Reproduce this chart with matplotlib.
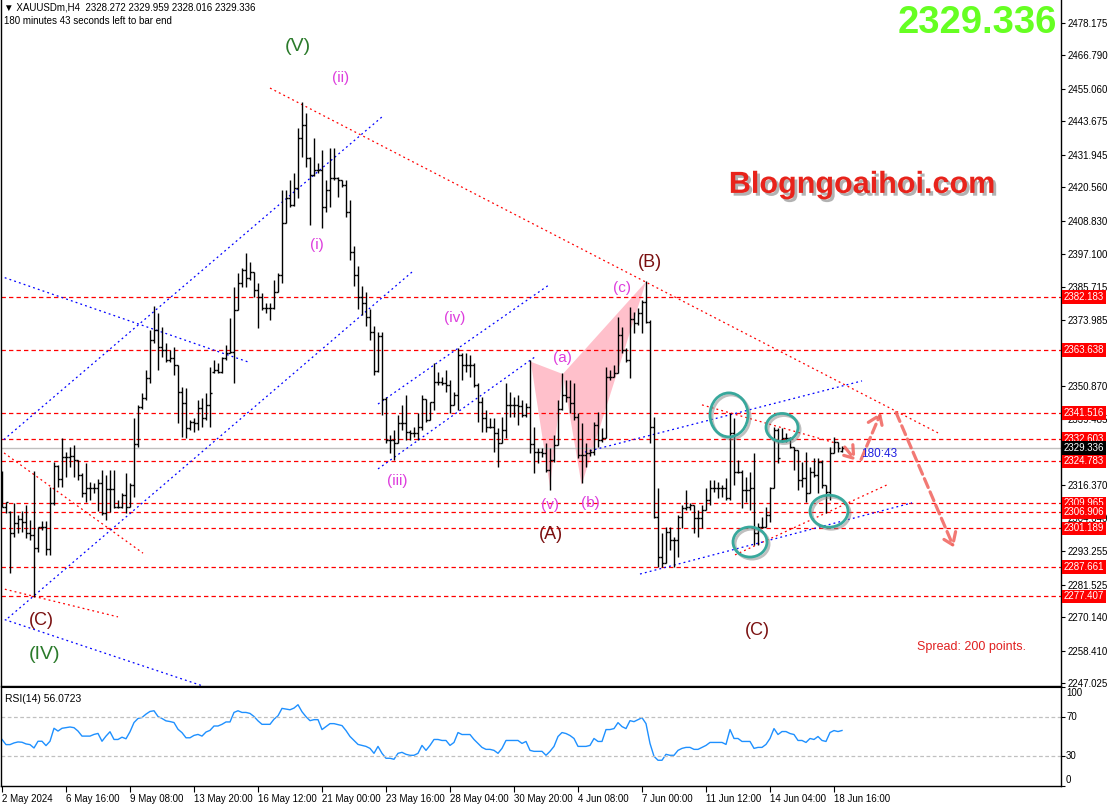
import matplotlib
matplotlib.use('Agg')
import matplotlib.pyplot as plt
from matplotlib.patches import Ellipse, Polygon, FancyArrowPatch
import matplotlib.transforms as mtransforms
import matplotlib.patheffects as pe

plt.rcParams['font.family'] = ['Liberation Sans', 'DejaVu Sans']

# ---------------- data ----------------
opens = [2318.0, 2308.8, 2307.0, 2299.4, 2303.0, 2304.4, 2303.5, 2299.4, 2298.9, 2294.2,
         2301.8, 2301.8, 2294.0, 2309.9, 2323.1, 2318.5, 2326.3, 2326.3, 2326.6, 2325.1,
         2319.8, 2313.4, 2315.2, 2315.2, 2315.2, 2317.2, 2306.4, 2315.0, 2315.0, 2308.5,
         2308.8, 2312.9, 2308.8, 2316.4, 2330.7, 2343.8, 2346.7, 2353.7, 2367.1, 2370.6,
         2364.8, 2363.6, 2360.1, 2360.7, 2358.4, 2349.0, 2344.9, 2336.2, 2338.5, 2337.9,
         2343.2, 2339.7, 2344.4, 2356.0, 2356.6, 2356.0, 2360.7, 2362.4, 2363.0, 2377.6,
         2386.9, 2391.6, 2388.7, 2391.0, 2384.6, 2382.3, 2378.2, 2378.2, 2378.2, 2384.0,
         2389.9, 2407.9, 2416.7, 2414.4, 2420.2, 2437.7, 2442.4, 2430.7, 2424.9, 2426.6,
         2426.6, 2413.8, 2419.6, 2423.7, 2423.7, 2423.1, 2421.4, 2412.0, 2398.0, 2390.0,
         2382.0, 2380.0, 2375.0, 2370.0, 2356.4, 2368.5, 2346.5, 2332.0, 2332.1, 2331.0,
         2337.9, 2338.2, 2335.0, 2334.4, 2334.4, 2336.8, 2346.3, 2339.1, 2345.5, 2352.5,
         2352.5, 2351.9, 2351.4, 2344.4, 2347.9, 2361.9, 2358.4, 2358.4, 2358.4, 2351.4,
         2345.5, 2339.7, 2336.8, 2336.8, 2334.4, 2330.9, 2335.6, 2344.4, 2344.4, 2344.4,
         2344.1, 2340.9, 2343.8, 2330.7, 2328.0, 2328.0, 2327.4, 2321.6, 2325.1, 2330.3,
         2343.0, 2347.9, 2347.3, 2345.0, 2340.3, 2326.9, 2326.9, 2327.4, 2328.0, 2337.4,
         2332.1, 2332.7, 2354.3, 2354.3, 2355.4, 2368.9, 2363.6, 2360.1, 2374.3, 2372.9,
         2376.4, 2380.5, 2373.5, 2336.8, 2305.3, 2291.0, 2288.9, 2300.0, 2297.1, 2297.1,
         2305.3, 2308.2, 2308.8, 2309.4, 2304.7, 2304.7, 2307.6, 2311.1, 2315.2, 2315.2,
         2315.2, 2315.2, 2311.7, 2334.4, 2321.0, 2321.0, 2314.6, 2314.6, 2315.2, 2299.4,
         2301.8, 2301.8, 2305.9, 2315.2, 2335.6, 2332.0, 2332.7, 2332.7, 2329.8, 2328.6,
         2318.1, 2318.7, 2313.4, 2321.0, 2319.9, 2324.5, 2316.4, 2314.0, 2327.4, 2331.5,
         2328.272]
highs = [2321.3, 2310.5, 2307.2, 2310.0, 2305.9, 2307.4, 2309.4, 2304.1, 2321.3, 2301.8,
         2303.9, 2303.9, 2315.7, 2324.5, 2323.4, 2332.7, 2328.0, 2329.8, 2330.4, 2325.1,
         2320.4, 2323.9, 2317.5, 2316.9, 2318.5, 2321.6, 2319.8, 2321.6, 2321.6, 2311.1,
         2313.4, 2320.4, 2316.9, 2339.7, 2344.4, 2348.4, 2356.6, 2370.6, 2379.0, 2376.4,
         2371.8, 2365.9, 2363.6, 2364.8, 2358.5, 2350.8, 2350.2, 2339.1, 2339.7, 2346.1,
         2346.7, 2348.4, 2357.8, 2360.1, 2358.9, 2361.3, 2365.4, 2374.7, 2385.8, 2390.4,
         2392.2, 2397.5, 2394.5, 2391.0, 2386.9, 2383.4, 2379.9, 2379.9, 2388.1, 2390.4,
         2419.6, 2419.6, 2423.1, 2425.5, 2441.2, 2450.5, 2446.5, 2431.3, 2437.7, 2428.9,
         2433.6, 2423.1, 2434.2, 2434.2, 2424.3, 2423.1, 2423.0, 2416.0, 2400.0, 2393.0,
         2386.0, 2384.0, 2378.0, 2372.0, 2370.0, 2370.0, 2347.0, 2333.9, 2335.6, 2340.9,
         2344.4, 2347.9, 2335.6, 2336.8, 2341.4, 2347.9, 2346.3, 2345.5, 2358.9, 2356.0,
         2354.3, 2356.6, 2353.1, 2349.0, 2364.2, 2362.4, 2362.4, 2361.9, 2358.9, 2351.9,
         2347.3, 2342.6, 2339.7, 2339.7, 2336.2, 2340.3, 2351.9, 2349.0, 2347.3, 2347.9,
         2346.1, 2344.9, 2360.1, 2336.8, 2329.2, 2329.2, 2330.9, 2329.2, 2333.9, 2346.1,
         2355.4, 2353.1, 2353.1, 2351.9, 2341.4, 2337.9, 2330.9, 2329.0, 2338.5, 2342.0,
         2336.2, 2357.8, 2356.6, 2358.4, 2375.3, 2371.8, 2364.2, 2378.8, 2377.0, 2378.2,
         2381.1, 2387.9, 2374.1, 2340.3, 2315.2, 2299.4, 2301.8, 2301.8, 2298.3, 2305.9,
         2309.4, 2314.6, 2309.9, 2309.4, 2307.6, 2309.4, 2315.2, 2318.1, 2318.1, 2317.5,
         2316.4, 2318.7, 2341.4, 2339.7, 2325.1, 2321.6, 2319.3, 2321.0, 2327.4, 2303.0,
         2305.3, 2308.8, 2315.8, 2336.8, 2336.2, 2336.2, 2334.5, 2333.3, 2329.8, 2328.6,
         2324.5, 2328.0, 2322.8, 2325.7, 2325.7, 2325.1, 2316.4, 2329.8, 2333.3, 2331.5,
         2329.959]
lows = [2308.5, 2306.4, 2285.7, 2298.3, 2299.4, 2300.0, 2297.7, 2297.1, 2277.3, 2293.0,
        2300.6, 2292.0, 2292.0, 2309.5, 2315.8, 2315.8, 2319.3, 2322.8, 2319.3, 2318.1,
        2312.3, 2310.5, 2311.1, 2313.4, 2307.4, 2305.8, 2304.1, 2307.0, 2308.2, 2308.2,
        2308.2, 2306.4, 2308.5, 2312.3, 2329.5, 2343.0, 2346.1, 2351.9, 2365.9, 2356.6,
        2361.3, 2359.5, 2359.5, 2354.9, 2337.9, 2333.3, 2332.7, 2335.6, 2335.0, 2335.6,
        2336.8, 2339.1, 2336.8, 2355.4, 2355.4, 2355.4, 2360.1, 2362.4, 2351.9, 2377.6,
        2385.8, 2385.8, 2388.1, 2382.3, 2371.2, 2377.6, 2376.4, 2374.1, 2378.0, 2384.0,
        2386.9, 2407.9, 2413.8, 2414.0, 2416.7, 2431.3, 2427.8, 2407.4, 2424.5, 2425.5,
        2406.2, 2412.0, 2413.8, 2423.1, 2417.3, 2420.8, 2410.0, 2395.0, 2386.0, 2378.0,
        2376.0, 2372.0, 2367.1, 2354.9, 2356.0, 2340.9, 2331.0, 2327.4, 2325.1, 2331.0,
        2335.6, 2332.1, 2332.1, 2333.3, 2332.1, 2335.6, 2338.5, 2339.1, 2342.6, 2351.4,
        2351.4, 2349.0, 2341.4, 2344.4, 2342.6, 2353.1, 2356.0, 2354.3, 2350.8, 2338.5,
        2335.0, 2335.0, 2336.2, 2328.0, 2322.8, 2330.9, 2332.7, 2340.3, 2340.3, 2337.4,
        2340.3, 2340.3, 2327.4, 2320.4, 2323.9, 2326.3, 2321.0, 2314.6, 2324.5, 2330.3,
        2342.6, 2345.5, 2341.4, 2339.1, 2325.7, 2316.9, 2322.8, 2326.5, 2326.9, 2329.8,
        2331.5, 2332.7, 2353.1, 2354.3, 2355.4, 2362.4, 2359.5, 2353.7, 2369.4, 2372.4,
        2369.4, 2372.9, 2330.9, 2304.7, 2287.8, 2287.8, 2288.9, 2293.6, 2287.8, 2291.3,
        2301.2, 2307.6, 2307.6, 2299.4, 2298.3, 2301.2, 2307.6, 2309.4, 2314.0, 2311.7,
        2312.3, 2311.1, 2311.1, 2316.4, 2320.4, 2308.2, 2310.5, 2307.6, 2295.4, 2295.4,
        2301.2, 2301.5, 2303.5, 2315.2, 2323.9, 2331.5, 2331.5, 2329.2, 2321.6, 2314.6,
        2315.8, 2310.5, 2313.4, 2319.3, 2313.4, 2315.2, 2306.4, 2311.1, 2327.4, 2328.0,
        2328.016]
closes = [2308.8, 2310.3, 2299.4, 2303.0, 2304.4, 2303.5, 2299.4, 2298.9, 2294.2, 2301.8,
          2301.8, 2294.0, 2309.9, 2323.1, 2318.5, 2326.3, 2326.3, 2326.6, 2325.1, 2319.8,
          2313.4, 2315.2, 2315.2, 2315.2, 2317.2, 2306.4, 2315.0, 2315.0, 2308.5, 2308.8,
          2312.9, 2308.8, 2316.4, 2330.7, 2343.8, 2346.7, 2353.7, 2367.1, 2370.6, 2364.8,
          2363.6, 2360.1, 2360.7, 2358.4, 2349.0, 2344.9, 2336.2, 2338.5, 2337.9, 2343.2,
          2339.7, 2344.4, 2348.4, 2356.6, 2356.0, 2360.7, 2362.4, 2363.0, 2377.6, 2386.9,
          2391.6, 2388.7, 2391.0, 2384.6, 2382.3, 2378.2, 2378.2, 2378.2, 2384.0, 2389.9,
          2407.9, 2416.7, 2414.4, 2420.2, 2437.7, 2442.4, 2430.7, 2424.9, 2426.6, 2426.6,
          2413.8, 2419.6, 2423.7, 2423.7, 2423.1, 2421.4, 2412.0, 2398.0, 2390.0, 2382.0,
          2380.0, 2375.0, 2370.0, 2356.4, 2368.5, 2346.5, 2332.0, 2332.1, 2331.0, 2337.9,
          2338.2, 2335.0, 2334.4, 2334.4, 2336.8, 2346.3, 2339.1, 2345.5, 2352.5, 2352.5,
          2351.9, 2351.4, 2344.4, 2347.9, 2361.9, 2358.4, 2358.4, 2358.4, 2351.4, 2345.5,
          2339.7, 2336.8, 2336.8, 2334.4, 2330.9, 2335.6, 2344.4, 2344.4, 2344.4, 2344.1,
          2340.9, 2343.8, 2330.7, 2328.0, 2328.0, 2327.4, 2321.6, 2325.1, 2330.3, 2343.0,
          2347.9, 2347.3, 2345.0, 2340.3, 2326.9, 2326.9, 2327.4, 2328.0, 2337.4, 2332.1,
          2332.7, 2354.3, 2354.3, 2355.4, 2368.9, 2363.6, 2360.1, 2374.3, 2372.9, 2376.4,
          2380.5, 2373.5, 2336.8, 2305.3, 2291.0, 2288.9, 2300.0, 2297.1, 2297.1, 2305.3,
          2308.2, 2308.8, 2309.4, 2304.7, 2304.7, 2307.6, 2311.1, 2315.2, 2315.2, 2315.2,
          2315.2, 2311.7, 2334.4, 2321.0, 2321.0, 2314.6, 2314.6, 2315.2, 2299.4, 2301.8,
          2301.8, 2305.9, 2315.2, 2335.6, 2325.7, 2332.7, 2332.7, 2329.8, 2328.6, 2318.1,
          2318.7, 2313.4, 2321.0, 2319.9, 2324.5, 2316.4, 2314.0, 2327.4, 2331.5, 2329.2,
          2329.336]

rsi_values = [47.0, 41.8, 41.8, 43.5, 44.5, 44.2, 42.5, 41.8, 38.4, 45.2,
              45.2, 40.8, 45.2, 58.3, 55.5, 58.3, 58.9, 59.6, 58.9, 55.5,
              50.4, 50.4, 50.4, 52.1, 53.1, 45.2, 50.4, 54.8, 47.0, 47.0,
              49.3, 47.7, 54.8, 64.1, 68.2, 69.2, 72.6, 75.3, 76.0, 70.2,
              68.2, 65.8, 65.1, 64.1, 57.3, 53.9, 48.7, 48.7, 51.1, 52.1,
              50.4, 54.5, 56.2, 60.6, 60.6, 62.3, 64.7, 64.7, 74.3, 76.0,
              74.3, 74.3, 73.3, 70.2, 65.8, 62.3, 62.3, 62.3, 67.5, 70.9,
              78.4, 77.7, 77.0, 78.7, 82.1,
              75, 70, 66, 67, 67, 57, 60, 63, 63, 62,
              61, 56, 50, 46, 42, 41, 40, 38, 33, 40,
              33, 28, 28, 27, 33, 34, 32, 31, 31, 33,
              41, 36, 41, 47, 47, 46, 46, 41, 44, 54,
              52, 52, 52, 47, 43, 39, 37, 37, 36, 33,
              38, 46, 46, 46, 46, 43, 45, 36, 35, 35,
              35, 31, 35, 40, 50, 54, 53, 51, 48, 40,
              40, 40, 41, 48, 45, 45, 57, 57, 58, 64,
              60, 58, 66, 65, 67, 69, 63, 43, 30, 26,
              26, 32, 31, 31, 36, 38, 39, 39, 37, 37,
              39, 41, 44, 44, 44, 44, 42, 57, 48, 48,
              45, 45, 45, 38, 39, 39, 42, 48, 58, 52,
              55, 55, 53, 52, 46, 46, 44, 48, 47, 50,
              46, 45, 54, 56, 55, 56.07]

x_tick_pos = [0, 16, 32, 48, 64, 80, 96, 112, 128, 144, 160, 176, 192, 208]
x_tick_labels = ['2 May 2024', '6 May 16:00', '9 May 08:00', '13 May 20:00', '16 May 12:00',
                 '21 May 00:00', '23 May 16:00', '28 May 04:00', '30 May 20:00', '4 Jun 08:00',
                 '7 Jun 00:00', '11 Jun 12:00', '14 Jun 04:00', '18 Jun 16:00']
price_ticks = [2478.175, 2466.790, 2455.060, 2443.675, 2431.945, 2420.560, 2408.830, 2397.100,
               2385.715, 2373.985, 2362.600, 2350.870, 2339.485, 2327.755, 2316.370, 2304.640,
               2293.255, 2281.525, 2270.140, 2258.410, 2247.025]
hidden_ticks = [2362.600, 2327.755]
levels = [2382.183, 2363.638, 2341.516, 2332.603, 2324.783, 2309.965, 2306.906, 2301.189,
          2287.661, 2277.407]
current_price = 2329.336

# trend lines: ((bar, price), (bar, price))
red_lines = [((67, 2455.3), (234, 2334.6)),
             ((-0.5, 2280.3), (29, 2270.2)),
             ((-0.5, 2328.6), (35.25, 2292.5)),
             ((175, 2344.4), (208.25, 2331.1)),
             ((183.25, 2291.9), (221.25, 2316.4))]
blue_lines = [((-0.5, 2331.1), (95.25, 2445.5)),
              ((1.5, 2269.8), (102.5, 2390.9)),
              ((-0.5, 2389.5), (62, 2359.2)),
              ((-0.5, 2269.8), (50.25, 2246.0)),
              ((94, 2344.7), (136.75, 2386.4)),
              ((94, 2322.0), (133.25, 2361.2)),
              ((145.75, 2327.9), (215, 2352.8)),
              ((159.5, 2285.2), (227.5, 2310.1))]
pattern_pts = {'X': (132.2, 2359.5), 'A': (137, 2315.7), 'B': (140.2, 2355.2),
               'C': (144.9, 2316.4), 'D': (161, 2387.5)}
# (center bar, center price, full width in bars, full height in price)
circles = [(181.75, 2340.9, 9.5, 15.4), (195, 2336.5, 8.0, 9.8),
           (187, 2296.4, 8.5, 10.5), (206.75, 2307.2, 9.5, 11.2)]
arrows = [((210.25, 2330.4), (213.8, 2324.2)),
          ((214.5, 2324.4), (220, 2342.6)),
          ((223.25, 2342.6), (238.25, 2293.6))]
wave_labels = [('(V)', 74, 2469.7, '#2a7a2a', 14), ('(IV)', 10.5, 2256.9, '#2a7a2a', 14),
               ('(B)', 162, 2394.4, '#7a1010', 13), ('(A)', 137.25, 2298.9, '#7a1010', 13),
               ('(C)', 9.75, 2268.8, '#7a1010', 13), ('(C)', 188.75, 2265.6, '#7a1010', 13),
               ('(ii)', 84.75, 2458.8, '#dd3ddd', 11), ('(i)', 78.75, 2400.4, '#dd3ddd', 11),
               ('(iv)', 113.25, 2374.8, '#dd3ddd', 11), ('(iii)', 98.75, 2317.8, '#dd3ddd', 11),
               ('(a)', 140, 2360.8, '#dd3ddd', 11), ('(c)', 155, 2385.3, '#dd3ddd', 11),
               ('(v)', 137, 2309.4, '#dd3ddd', 11), ('(b)', 147, 2310.1, '#dd3ddd', 11)]

# ---------------- figure ----------------
W, H = 1113, 807
fig = plt.figure(figsize=(W / 100, H / 100), dpi=100)
fig.patch.set_facecolor('white')


def fx(px):
    return px / W


def fy(py):
    return 1 - py / H


ax = fig.add_axes([fx(1), fy(686), fx(1061) - fx(1), fy(0) - fy(686)])
rax = fig.add_axes([fx(1), fy(786), fx(1061) - fx(1), fy(687) - fy(786)])

XMIN, XMAX = -0.25, 264.75
ax.set_xlim(XMIN, XMAX)
ax.set_ylim(2486.12 - 686 / 2.857, 2486.12)
rax.set_xlim(XMIN, XMAX)
rax.set_ylim(0, 100)

idx = list(range(len(closes)))

# pink harmonic pattern
P = pattern_pts
ax.add_patch(Polygon([P['X'], P['A'], P['B']], closed=True, fc='#ffc0cb', ec='none', zorder=1))
ax.add_patch(Polygon([P['B'], P['C'], P['D']], closed=True, fc='#ffc0cb', ec='none', zorder=1))

# horizontal levels
for lv in levels:
    ax.axhline(lv, color='#ff0000', ls=(0, (3.5, 2.5)), lw=0.9, zorder=2)
ax.axhline(current_price, color='#c0c0c0', lw=1.0, zorder=2)

# trend lines
for (a, b) in red_lines:
    ax.plot([a[0], b[0]], [a[1], b[1]], color='#ff0000', ls=(0, (1.5, 2.5)), lw=0.9, zorder=2)
for (a, b) in blue_lines:
    ax.plot([a[0], b[0]], [a[1], b[1]], color='#0000ff', ls=(0, (1.5, 2.5)), lw=0.9, zorder=2)

# OHLC bars
ax.vlines(idx, lows, highs, color='black', lw=1.0, zorder=4)
ax.hlines(opens, [i - 0.45 for i in idx], idx, color='black', lw=1.0, zorder=4)
ax.hlines(closes, idx, [i + 0.45 for i in idx], color='black', lw=1.0, zorder=4)

# circles
for (cx, cy, w, h) in circles:
    e = Ellipse((cx, cy), w, h, fc='none', ec='#38a89c', lw=2.0, zorder=6,
                path_effects=[pe.SimpleLineShadow(offset=(1.5, -1.5), shadow_color='gray', alpha=0.5),
                              pe.Normal()])
    ax.add_patch(e)

# arrows
for (a, b) in arrows:
    arr = FancyArrowPatch(a, b, arrowstyle='->,head_length=5,head_width=3.5',
                          color='#f0625c', lw=2.3, ls=(0, (3, 1.5)), alpha=0.85, zorder=7,
                          mutation_scale=1.6)
    ax.add_patch(arr)

# wave labels
for (t, x, y, c, s) in wave_labels:
    ax.text(x, y, t, color=c, fontsize=s, ha='center', va='center', zorder=8)

ax.text(215, 2421.4, 'Blogngoaihoi.com', color='#e8231b', fontsize=22, fontweight='bold',
        ha='center', va='center', zorder=8,
        path_effects=[pe.withSimplePatchShadow(offset=(2, -2), shadow_rgbFace='gray', alpha=0.6)])
ax.text(228.8, 2259.7, 'Spread: 200 points.', color='#e02020', fontsize=9,
        ha='left', va='center', zorder=8)
ax.text(214.8, 2327.3, '180:43', color='#2020e0', fontsize=8.5, ha='left', va='center', zorder=8)

# axes styling
for a in (ax, rax):
    a.set_facecolor('white')
    for s in ('left', 'right', 'bottom'):
        a.spines[s].set_color('black')
        a.spines[s].set_linewidth(1.0)
ax.spines['top'].set_visible(False)
rax.spines['top'].set_color('black')

ax.set_xticks([])
ax.yaxis.tick_right()
ax.set_yticks(price_ticks)
ax.set_yticklabels(['' if v in hidden_ticks else f'{v:.3f}' for v in price_ticks])
ax.tick_params(axis='y', length=3, width=0.8, pad=2, labelsize=7, colors='black')

trans = mtransforms.blended_transform_factory(ax.transAxes, ax.transData)
for lv in levels:
    ax.text(1.0 + 3 / 1060, lv, f'{lv:.3f}', transform=trans, ha='left', va='center', fontsize=7,
            color='white', clip_on=False, zorder=20,
            bbox=dict(boxstyle='square,pad=0.18', fc='#ff0000', ec='none'))
ax.text(1.0 + 3 / 1060, current_price, f'{current_price:.3f}', transform=trans, ha='left',
        va='center', fontsize=7, color='white', clip_on=False, zorder=21,
        bbox=dict(boxstyle='square,pad=0.18', fc='black', ec='none'))

# RSI
rax.plot(idx, rsi_values, color='#1e90ff', lw=1.0)
rax.axhline(70, color='#c0c0c0', ls=(0, (3, 2)), lw=0.9)
rax.axhline(30, color='#c0c0c0', ls=(0, (3, 2)), lw=0.9)
rax.yaxis.tick_right()
rax.set_yticks([100, 70, 30, 0])
rax.set_yticklabels([])
rax.tick_params(axis='y', length=3, width=0.8)
rtrans = mtransforms.blended_transform_factory(rax.transAxes, rax.transData)
for v, va in ((100, 'top'), (70, 'center'), (30, 'center'), (0, 'bottom')):
    rax.text(1.0 + 5 / 1060, v + (-1 if v == 100 else (1 if v == 0 else 0)), str(v),
             transform=rtrans, ha='left', va=va, fontsize=7, clip_on=False)
rax.text(4 / 1060, 93, 'RSI(14) 56.0723', transform=rtrans, fontsize=7.5, ha='left', va='top')

rax.set_xticks(x_tick_pos)
rax.set_xticklabels(x_tick_labels, ha='left', fontsize=7)
rax.tick_params(axis='x', length=4, width=0.8, pad=2)

# header texts
fig.text(fx(4), fy(8), '\u25bc XAUUSDm,H4  2328.272 2329.959 2328.016 2329.336', fontsize=7,
         ha='left', va='center', family=['Liberation Sans', 'DejaVu Sans'])
fig.text(fx(4), fy(21), '180 minutes 43 seconds left to bar end', fontsize=7, ha='left', va='center')
fig.text(fx(1057), fy(23), '2329.336', fontsize=27.5, fontweight='bold', color='#66ff22',
         ha='right', va='center')

fig.savefig('out.png', dpi=100, facecolor='white')
